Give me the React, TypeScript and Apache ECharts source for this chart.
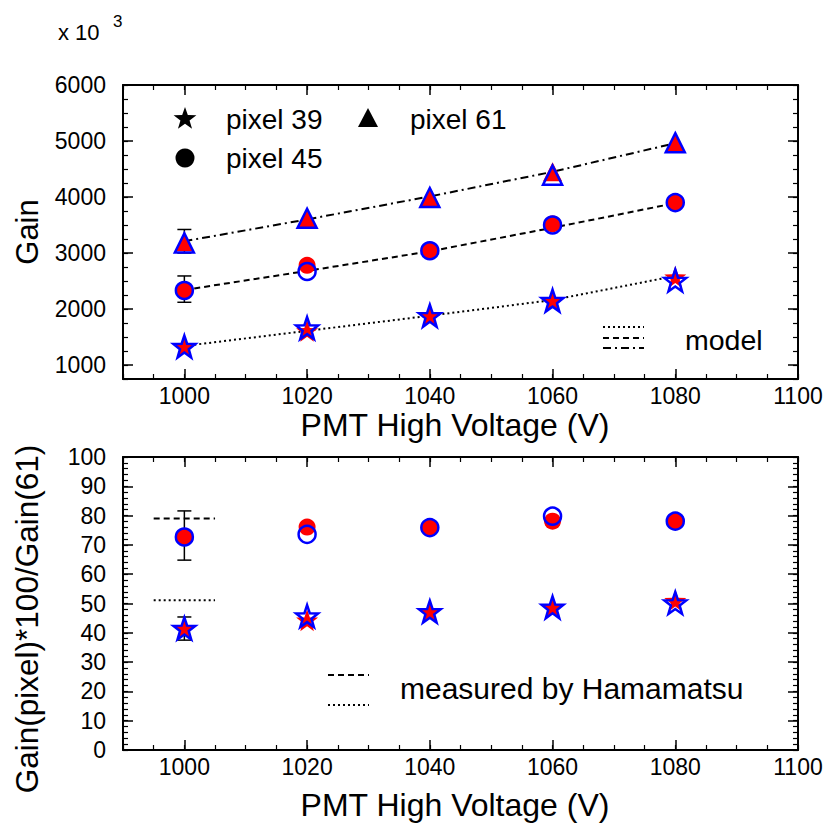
import React, { useEffect, useRef } from "react";
import * as echarts from "echarts";

// ---------- data ----------
const voltages = [1000, 1020, 1040, 1060, 1080];

// top panel: gain (axis values, to be read x 10^3)
const gain39Red = [1340, 1610, 1870, 2150, 2570];
const gain39Blue = [1330, 1660, 1880, 2150, 2510];
const gain45Red = [2330, 2780, 3040, 3520, 3900];
const gain45Blue = [2330, 2670, 3040, 3500, 3900];
const gain61Red = [3200, 3620, 4010, 4450, 4970];
const gain61Blue = [3180, 3620, 3990, 4390, 4970];

const model39 = [1340, 1610, 1880, 2160, 2590];
const model45 = [2340, 2680, 3030, 3450, 3890];
const model61 = [3210, 3600, 4010, 4450, 4960];

// error bars [voltage, low, high]
const gainErrors = [
  [1000, 3000, 3420],
  [1000, 2120, 2590],
];

// bottom panel: Gain(pixel)*100/Gain(61)
const ratio39Red = [41.5, 44.3, 47.2, 48.7, 51.0];
const ratio39Blue = [41.5, 45.7, 47.2, 48.7, 50.2];
const ratio45Red = [72.7, 76.1, 75.9, 78.1, 78.1];
const ratio45Blue = [72.7, 73.6, 75.9, 79.8, 78.1];

const ratioErrors = [
  [1000, 64.8, 81.6],
  [1000, 37.5, 45.4],
];

// Hamamatsu measured ratios, drawn as short horizontal segments
const hamamatsuX = [995, 1005];
const hamamatsu45 = 79.0;
const hamamatsu39 = 51.1;

// tick values
const xMajor = [1000, 1020, 1040, 1060, 1080, 1100];
const xMinor: number[] = [];
for (let v = 990; v <= 1100; v += 5) xMinor.push(v);
const yTopMajor = [1000, 2000, 3000, 4000, 5000, 6000];
const yTopMinor: number[] = [];
for (let v = 750; v <= 6000; v += 250) yTopMinor.push(v);
const yBotMajor = [0, 10, 20, 30, 40, 50, 60, 70, 80, 90, 100];
const yBotMinor: number[] = [];
for (let v = 0; v <= 100; v += 2) yBotMinor.push(v);

// ---------- styling ----------
const FONT = '"Liberation Sans", Arial, Helvetica, sans-serif';
const RED = "#ff0000";
const BLUE = "#0000ff";
const DOTTED = [2, 3];
const DASHED = [6, 4];
const DASHDOT = [8, 4, 2, 4];

function starPoints(cx: number, cy: number, R: number, r: number) {
  const pts: number[][] = [];
  for (let k = 0; k < 10; k++) {
    const a = -Math.PI / 2 + (k * Math.PI) / 5;
    const rad = k % 2 === 0 ? R : r;
    pts.push([cx + rad * Math.cos(a), cy + rad * Math.sin(a)]);
  }
  return pts;
}
const starPath =
  "path://" +
  starPoints(50, 50, 50, 20)
    .map((p, i) => (i === 0 ? "M" : "L") + p[0].toFixed(2) + " " + p[1].toFixed(2))
    .join(" ") +
  " Z";

function xAxesFor(gridIndex: number) {
  const common = {
    type: "value",
    gridIndex,
    min: 990,
    max: 1100,
    splitLine: { show: false },
  };
  const line = { show: true, onZero: false, lineStyle: { color: "#000", width: 2 } };
  return [
    {
      ...common,
      position: "bottom",
      axisLine: line,
      axisTick: { show: true, inside: true, length: 10, customValues: xMajor, lineStyle: { color: "#000", width: 1.5 } },
      axisLabel: { show: true, customValues: xMajor, fontSize: 23, color: "#000", fontFamily: FONT, margin: 5, formatter: (v: number) => String(v) },
    },
    {
      ...common,
      position: "bottom",
      axisLine: { show: false, onZero: false },
      axisTick: { show: true, inside: true, length: 5, customValues: xMinor, lineStyle: { color: "#000", width: 1.2 } },
      axisLabel: { show: false },
    },
    {
      ...common,
      position: "top",
      axisLine: line,
      axisTick: { show: true, inside: true, length: 10, customValues: xMajor, lineStyle: { color: "#000", width: 1.5 } },
      axisLabel: { show: false },
    },
    {
      ...common,
      position: "top",
      axisLine: { show: false, onZero: false },
      axisTick: { show: true, inside: true, length: 5, customValues: xMinor, lineStyle: { color: "#000", width: 1.2 } },
      axisLabel: { show: false },
    },
  ];
}

function yAxesFor(gridIndex: number, min: number, max: number, major: number[], minor: number[]) {
  const common = { type: "value", gridIndex, min, max, splitLine: { show: false } };
  const line = { show: true, onZero: false, lineStyle: { color: "#000", width: 2 } };
  return [
    {
      ...common,
      position: "left",
      axisLine: line,
      axisTick: { show: true, inside: true, length: 10, customValues: major, lineStyle: { color: "#000", width: 1.5 } },
      axisLabel: { show: true, customValues: major, fontSize: 23, color: "#000", fontFamily: FONT, margin: 17, formatter: (v: number) => String(v) },
    },
    {
      ...common,
      position: "left",
      axisLine: { show: false, onZero: false },
      axisTick: { show: true, inside: true, length: 5, customValues: minor, lineStyle: { color: "#000", width: 1.2 } },
      axisLabel: { show: false },
    },
    {
      ...common,
      position: "right",
      axisLine: line,
      axisTick: { show: true, inside: true, length: 10, customValues: major, lineStyle: { color: "#000", width: 1.5 } },
      axisLabel: { show: false },
    },
    {
      ...common,
      position: "right",
      axisLine: { show: false, onZero: false },
      axisTick: { show: true, inside: true, length: 5, customValues: minor, lineStyle: { color: "#000", width: 1.2 } },
      axisLabel: { show: false },
    },
  ];
}

function pairs(ys: number[]) {
  return voltages.map((v, i) => [v, ys[i]]);
}

function errorSeries(axisIdx: number, data: number[][]) {
  return {
    type: "custom",
    coordinateSystem: "cartesian2d",
    xAxisIndex: axisIdx,
    yAxisIndex: axisIdx,
    z: 1,
    silent: true,
    encode: { x: 0, y: [1, 2] },
    data,
    renderItem: (_p: any, api: any) => {
      const x = api.value(0);
      const lo = api.coord([x, api.value(1)]);
      const hi = api.coord([x, api.value(2)]);
      const w = 7;
      const style = { stroke: "#000", lineWidth: 1.5 };
      return {
        type: "group",
        children: [
          { type: "line", shape: { x1: lo[0], y1: lo[1], x2: hi[0], y2: hi[1] }, style },
          { type: "line", shape: { x1: lo[0] - w, y1: lo[1], x2: lo[0] + w, y2: lo[1] }, style },
          { type: "line", shape: { x1: hi[0] - w, y1: hi[1], x2: hi[0] + w, y2: hi[1] }, style },
        ],
      };
    },
  };
}

function modelLine(axisIdx: number, data: number[][], dash: number[]) {
  return {
    type: "line",
    xAxisIndex: axisIdx,
    yAxisIndex: axisIdx,
    data,
    showSymbol: false,
    symbol: "none",
    z: 2,
    silent: true,
    lineStyle: { color: "#000", width: 2, type: dash, opacity: 1 },
  };
}

function markers(axisIdx: number, data: number[][], symbol: string, size: number, filled: boolean) {
  return {
    type: "scatter",
    xAxisIndex: axisIdx,
    yAxisIndex: axisIdx,
    data,
    symbol,
    symbolSize: size,
    z: filled ? 3 : 4,
    silent: true,
    itemStyle: filled
      ? { color: RED, borderWidth: 0, opacity: 1 }
      : { color: "rgba(0,0,0,0)", borderColor: BLUE, borderWidth: 2.5, opacity: 1 },
  };
}

export default function App() {
  const ref = useRef<HTMLDivElement>(null);
  useEffect(() => {
    if (!ref.current) return;
    const chart = echarts.init(ref.current, null, { renderer: "svg" });

    const textStyle = (size: number) => ({ fill: "#000", fontSize: size, fontFamily: FONT });

    const legendStar = starPoints(185, 119, 12, 4.8);
    const option: any = {
      animation: false,
      backgroundColor: "#fff",
      grid: [
        { left: 123, top: 85, width: 675, height: 294, containLabel: false },
        { left: 123, top: 457, width: 675, height: 293, containLabel: false },
      ],
      xAxis: [...xAxesFor(0), ...xAxesFor(1)],
      yAxis: [
        ...yAxesFor(0, 750, 6000, yTopMajor, yTopMinor),
        ...yAxesFor(1, 0, 100, yBotMajor, yBotMinor),
      ],
      series: [
        // top panel
        errorSeries(0, gainErrors),
        modelLine(0, pairs(model39), DOTTED),
        modelLine(0, pairs(model45), DASHED),
        modelLine(0, pairs(model61), DASHDOT),
        markers(0, pairs(gain39Red), starPath, 22, true),
        markers(0, pairs(gain45Red), "circle", 17, true),
        markers(0, pairs(gain61Red), "triangle", 19, true),
        markers(0, pairs(gain39Blue), starPath, 22, false),
        markers(0, pairs(gain45Blue), "circle", 17, false),
        markers(0, pairs(gain61Blue), "triangle", 19, false),
        // bottom panel
        errorSeries(4, ratioErrors),
        modelLine(4, hamamatsuX.map((x) => [x, hamamatsu45]), DASHED),
        modelLine(4, hamamatsuX.map((x) => [x, hamamatsu39]), DOTTED),
        markers(4, pairs(ratio39Red), starPath, 22, true),
        markers(4, pairs(ratio45Red), "circle", 17, true),
        markers(4, pairs(ratio39Blue), starPath, 22, false),
        markers(4, pairs(ratio45Blue), "circle", 17, false),
      ],
      graphic: [
        // multiplier
        { type: "text", x: 58, y: 32, style: { text: "x 10", ...textStyle(22), verticalAlign: "middle" } },
        { type: "text", x: 113, y: 21, style: { text: "3", ...textStyle(17), verticalAlign: "middle" } },
        // axis titles
        { type: "text", x: 27, y: 232, rotation: Math.PI / 2, style: { text: "Gain", ...textStyle(31), align: "center", verticalAlign: "middle" } },
        { type: "text", x: 455, y: 425, style: { text: "PMT High Voltage (V)", ...textStyle(32), align: "center", verticalAlign: "middle" } },
        { type: "text", x: 27, y: 619, rotation: Math.PI / 2, style: { text: "Gain(pixel)*100/Gain(61)", ...textStyle(31.5), align: "center", verticalAlign: "middle" } },
        { type: "text", x: 455, y: 805, style: { text: "PMT High Voltage (V)", ...textStyle(32), align: "center", verticalAlign: "middle" } },
        // top legend
        { type: "polygon", shape: { points: legendStar }, style: { fill: "#000" } },
        { type: "text", x: 226, y: 119, style: { text: "pixel 39", ...textStyle(28), verticalAlign: "middle" } },
        { type: "polygon", shape: { points: [[368, 108], [378, 127], [358, 127]] }, style: { fill: "#000" } },
        { type: "text", x: 410, y: 119, style: { text: "pixel 61", ...textStyle(28), verticalAlign: "middle" } },
        { type: "circle", shape: { cx: 185, cy: 158, r: 9.5 }, style: { fill: "#000" } },
        { type: "text", x: 226, y: 158, style: { text: "pixel 45", ...textStyle(28), verticalAlign: "middle" } },
        // model legend
        { type: "line", shape: { x1: 603, y1: 327, x2: 644, y2: 327 }, style: { stroke: "#000", lineWidth: 2, lineDash: DOTTED } },
        { type: "line", shape: { x1: 603, y1: 338, x2: 644, y2: 338 }, style: { stroke: "#000", lineWidth: 2, lineDash: DASHED } },
        { type: "line", shape: { x1: 603, y1: 348, x2: 644, y2: 348 }, style: { stroke: "#000", lineWidth: 2, lineDash: DASHDOT } },
        { type: "text", x: 685, y: 340, style: { text: "model", ...textStyle(28.5), verticalAlign: "middle" } },
        // hamamatsu legend
        { type: "line", shape: { x1: 328, y1: 675, x2: 369, y2: 675 }, style: { stroke: "#000", lineWidth: 2, lineDash: DASHED } },
        { type: "line", shape: { x1: 328, y1: 705, x2: 369, y2: 705 }, style: { stroke: "#000", lineWidth: 2, lineDash: DOTTED } },
        { type: "text", x: 400, y: 688, style: { text: "measured by Hamamatsu", ...textStyle(30), verticalAlign: "middle" } },
      ],
    };
    chart.setOption(option);
    return () => chart.dispose();
  }, []);
  return (
    <div
      ref={ref}
      style={{ position: "fixed", left: 0, top: 0, width: 829, height: 827, background: "#fff" }}
    />
  );
}
